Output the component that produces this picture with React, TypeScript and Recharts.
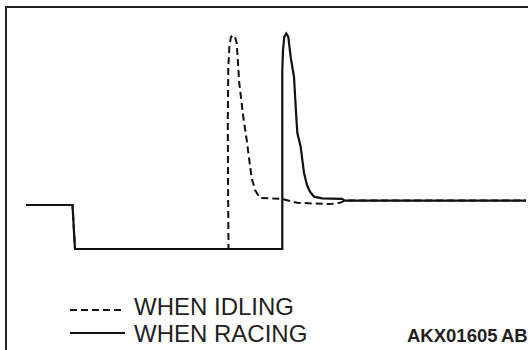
import { LineChart, Line, XAxis, YAxis, Legend } from "recharts";

// time axis (arbitrary units, 0..100) and signal voltage (V)
const racingTime = [
  0, 9.3, 9.8, 51.26, 51.26, 51.4, 51.66, 52.06, 52.46, 52.94, 53.6, 53.94,
  54.26, 54.94, 55.6, 56.2, 56.8, 57.6, 59.2, 63.2, 63.8, 100,
];
const racingVolts = [
  1.0, 1.0, 0, 0, 4.07, 4.52, 4.82, 4.9, 4.82, 4.36, 3.91, 3.23, 2.64, 2.32,
  1.73, 1.45, 1.3, 1.19, 1.15, 1.14, 1.1, 1.1,
];

const idlingTime = [
  0, 9.3, 9.8, 40.5, 40.4, 40.36, 40.46, 40.7, 41.0, 41.4, 41.8, 42.14, 42.66,
  43.46, 44.14, 44.66, 45.14, 45.8, 46.8, 51.2, 54.2, 60.8, 62.8, 63.8, 100,
];
const idlingVolts = [
  1.0, 1.0, 0, 0, 1.68, 2.93, 4.14, 4.64, 4.82, 4.86, 4.82, 4.68, 3.77, 3.0,
  2.48, 2.02, 1.61, 1.34, 1.16, 1.14, 1.05, 1.02, 1.05, 1.1, 1.1,
];

const seriesNames = ["WHEN IDLING", "WHEN RACING"];
const figureCode = "AKX01605 AB";

const racingData = racingTime.map((t, i) => ({ t, v: racingVolts[i] }));
const idlingData = idlingTime.map((t, i) => ({ t, v: idlingVolts[i] }));

const INK = "#111111";
const TEXT = "#231f20";
const FONT = "'Liberation Sans', Arial, Helvetica, sans-serif";

function LegendBox({ payload }: any) {
  const items = payload || [];
  return (
    <svg width={260} height={60} style={{ display: "block" }}>
      {items.map((item: any, i: number) => {
        const y = 20 + i * 23;
        return (
          <g key={item.value}>
            <line
              x1={10}
              x2={65}
              y1={y}
              y2={y}
              stroke={INK}
              strokeWidth={2}
              strokeDasharray={item.payload?.strokeDasharray}
            />
            <text
              x={74}
              y={y + 5 + i * 4}
              fontSize={24}
              fontFamily={FONT}
              fill={TEXT}
            >
              {item.value}
            </text>
          </g>
        );
      })}
    </svg>
  );
}

export default function App() {
  return (
    <div
      style={{
        position: "absolute",
        left: 0,
        top: 0,
        width: 528,
        height: 350,
        background: "#ffffff",
      }}
    >
      <svg
        width={528}
        height={350}
        style={{ position: "absolute", left: 0, top: 0 }}
      >
        <polyline
          points="6,350 6,7 528,7"
          fill="none"
          stroke="#222"
          strokeWidth={2}
        />
      </svg>
      <LineChart
        width={528}
        height={350}
        margin={{ top: 29, right: 2, bottom: 101, left: 26 }}
      >
        <XAxis type="number" dataKey="t" domain={[0, 100]} hide />
        <YAxis type="number" domain={[0, 5]} hide />
        <Legend
          layout="horizontal"
          verticalAlign="middle"
          align="center"
          content={<LegendBox />}
          wrapperStyle={{ left: 60, top: 290, width: 260, height: 60 }}
        />
        <Line
          data={idlingData}
          dataKey="v"
          name={seriesNames[0]}
          type="linear"
          stroke={INK}
          strokeWidth={2}
          strokeDasharray="7 4"
          dot={false}
          activeDot={false}
          isAnimationActive={false}
        />
        <Line
          data={racingData}
          dataKey="v"
          name={seriesNames[1]}
          type="linear"
          stroke={INK}
          strokeWidth={2.2}
          dot={false}
          activeDot={false}
          isAnimationActive={false}
        />
      </LineChart>
      <div
        style={{
          position: "absolute",
          left: 407,
          top: 326,
          fontFamily: FONT,
          fontWeight: "bold",
          fontSize: 18.5,
          wordSpacing: -1,
          color: TEXT,
          lineHeight: "20px",
          whiteSpace: "nowrap",
        }}
      >
        {figureCode}
      </div>
    </div>
  );
}
